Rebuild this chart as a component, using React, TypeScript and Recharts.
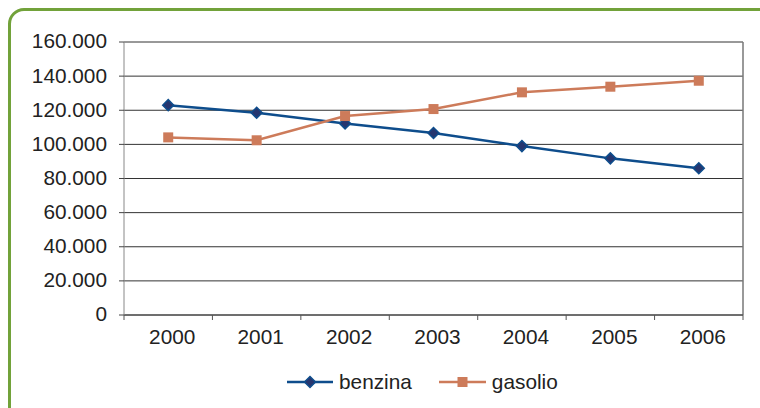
import { LineChart, Line, XAxis, YAxis, CartesianGrid, Legend, ReferenceLine } from 'recharts';

// consumi per anno
const years = [2000, 2001, 2002, 2003, 2004, 2005, 2006];
const benzina = [123000, 118500, 112300, 106700, 99000, 91800, 86000];
const gasolio = [104100, 102400, 116600, 120700, 130500, 133800, 137300];
const yTicks = [0, 20000, 40000, 60000, 80000, 100000, 120000, 140000, 160000];

const BLUE = '#0E4D8C';
const ORANGE = '#CD7B5A';
const FONT = '"Liberation Sans", Arial, sans-serif';
const FS = 20.8;

const data = years.map((year, i) => ({ year, benzina: benzina[i], gasolio: gasolio[i] }));

// tick a meta' tra le categorie (solo trattino) + etichette al centro
const xTicks = years
  .flatMap((y) => [y - 0.5, y])
  .concat(years[years.length - 1] + 0.5);

const formatThousands = (v: number): string =>
  String(v).replace(/\B(?=(\d{3})+(?!\d))/g, '.');

const XTick = (props: any) => {
  const { x, y, payload } = props;
  if (payload.value % 1 !== 0) {
    return <line x1={x} x2={x} y1={y} y2={y + 5} stroke="#555" strokeWidth={1} />;
  }
  return (
    <text x={x + 4} y={y + 14} dy="0.71em" textAnchor="middle" fill="#222" fontSize={FS} fontFamily={FONT}>
      {payload.value}
    </text>
  );
};

const Diamond = (props: any) => {
  const { cx, cy } = props;
  if (cx == null || cy == null) return null;
  const r = 5.5;
  return (
    <path
      d={`M${cx},${cy - r}L${cx + r},${cy}L${cx},${cy + r}L${cx - r},${cy}Z`}
      fill="#26366F"
      stroke={BLUE}
      strokeWidth={1.5}
    />
  );
};

const Square = (props: any) => {
  const { cx, cy } = props;
  if (cx == null || cy == null) return null;
  return <rect x={cx - 5} y={cy - 5} width={10} height={10} fill={ORANGE} />;
};

const LegendContent = () => (
  <div style={{ display: 'flex', alignItems: 'center', fontFamily: FONT, fontSize: FS, color: '#222' }}>
    <svg width={46} height={22}>
      <line x1={0} x2={46} y1={11} y2={11} stroke={BLUE} strokeWidth={2.5} />
      <path d="M23,5.5L28.5,11L23,16.5L17.5,11Z" fill="#26366F" stroke={BLUE} strokeWidth={1.5} />
    </svg>
    <span style={{ marginLeft: 6, marginRight: 27 }}>benzina</span>
    <svg width={47} height={22}>
      <line x1={0} x2={47} y1={11} y2={11} stroke={ORANGE} strokeWidth={2.5} />
      <rect x={18.5} y={6} width={10} height={10} fill={ORANGE} />
    </svg>
    <span style={{ marginLeft: 6 }}>gasolio</span>
  </div>
);

export default function App() {
  return (
    <div style={{ position: 'fixed', left: 0, top: 0, width: 760, height: 408, overflow: 'hidden', background: '#fff' }}>
      <div
        style={{
          position: 'absolute',
          left: 8,
          top: 8,
          width: 780,
          height: 420,
          boxSizing: 'border-box',
          border: '3px solid #72A23A',
          borderRadius: 16,
        }}
      />
      <div style={{ position: 'absolute', left: 0, top: 0 }}>
        <LineChart width={760} height={408} data={data} margin={{ top: 42, right: 17, left: 10, bottom: 63 }}>
          <CartesianGrid vertical={false} stroke="#333" strokeWidth={1} />
          <XAxis
            dataKey="year"
            type="number"
            domain={[1999.5, 2006.5]}
            ticks={xTicks}
            interval={0}
            tick={<XTick />}
            tickLine={false}
            tickSize={0}
            tickMargin={0}
            height={30}
            axisLine={{ stroke: '#444', strokeWidth: 1 }}
          />
          <YAxis
            domain={[0, 160000]}
            ticks={yTicks}
            interval={0}
            width={114}
            tickSize={5}
            tickMargin={12}
            tickFormatter={formatThousands}
            tick={{ fill: '#222', fontSize: FS, fontFamily: FONT, dy: -1 }}
            tickLine={{ stroke: '#444' }}
            axisLine={{ stroke: '#888' }}
          />
          <ReferenceLine x={2006.5} stroke="#777" strokeWidth={1.5} />
          <Legend
            layout="horizontal"
            verticalAlign="middle"
            align="center"
            content={<LegendContent />}
            wrapperStyle={{ left: 287, top: 370, width: 'auto' }}
          />
          <Line
            type="linear"
            dataKey="benzina"
            name="benzina"
            stroke={BLUE}
            strokeWidth={2.5}
            dot={<Diamond />}
            activeDot={false}
            isAnimationActive={false}
          />
          <Line
            type="linear"
            dataKey="gasolio"
            name="gasolio"
            stroke={ORANGE}
            strokeWidth={2.5}
            dot={<Square />}
            activeDot={false}
            isAnimationActive={false}
          />
        </LineChart>
      </div>
    </div>
  );
}
